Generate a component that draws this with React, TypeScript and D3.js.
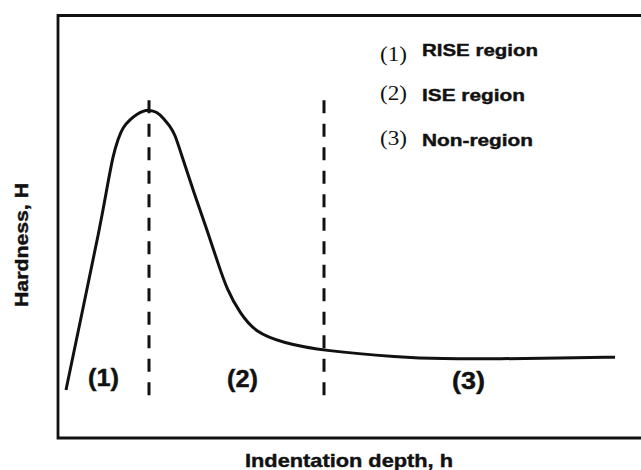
import React, { useRef, useEffect } from "react";
import * as d3 from "d3";

// hardness curve (depth, hardness)
const depth = [0.16, 0.5, 0.84, 0.98, 1.1, 1.2, 1.3, 1.44, 1.58, 1.7, 1.82, 1.98, 2.1, 2.24, 2.34, 2.44, 2.7, 2.98, 3.18, 3.38, 3.64, 3.94, 4.5, 5.32, 6.84, 7.64, 8.84, 10.04, 11.14];
const hardness = [1.12, 3.07, 5.0, 5.93, 6.7, 7.1, 7.38, 7.56, 7.69, 7.76, 7.79, 7.74, 7.6, 7.4, 7.2, 6.83, 5.88, 4.93, 4.21, 3.5, 2.95, 2.5, 2.24, 2.05, 1.9, 1.86, 1.86, 1.88, 1.9];

// region boundaries (depth) and their vertical extent
const boundaries = [1.82, 5.32];
const boundaryRange = [0.98, 8.02];

const regionLabels = ["(1)", "(2)", "(3)"];
const legendNums = ["(1)", "(2)", "(3)"];
const legendNames = ["RISE region", "ISE region", "Non-region"];

const xTitle = "Indentation depth, h";
const yTitle = "Hardness, H";

const App = () => {
  const ref = useRef<SVGSVGElement>(null);

  useEffect(() => {
    const svg = d3.select(ref.current);
    svg.selectAll("*").remove();

    const width = 641;
    const height = 470;
    const x = d3.scaleLinear().domain([0, 12]).range([58, 658]);
    const y = d3.scaleLinear().domain([0, 10]).range([437, 17]);

    svg.attr("width", width).attr("height", height);

    svg
      .append("rect")
      .attr("width", width)
      .attr("height", height)
      .attr("fill", "#fff");

    // frame: left, top and bottom only, the right side runs off the picture
    svg
      .append("path")
      .attr("d", `M${width + 10},15.5H58V438H${width + 10}`)
      .attr("fill", "none")
      .attr("stroke", "#111")
      .attr("stroke-width", 2.8);

    const pts = depth.map((d, i) => [d, hardness[i]] as [number, number]);
    const line = d3
      .line<[number, number]>()
      .x((d) => x(d[0]))
      .y((d) => y(d[1]))
      .curve(d3.curveBasis);

    svg
      .append("path")
      .datum(pts)
      .attr("d", line)
      .attr("fill", "none")
      .attr("stroke", "#111")
      .attr("stroke-width", 3)
      .attr("stroke-linejoin", "round");

    svg
      .selectAll(".bound")
      .data(boundaries)
      .enter()
      .append("line")
      .attr("class", "bound")
      .attr("x1", (d) => x(d))
      .attr("x2", (d) => x(d))
      .attr("y1", y(boundaryRange[1]))
      .attr("y2", y(boundaryRange[0]))
      .attr("stroke", "#111")
      .attr("stroke-width", 3)
      .attr("stroke-dasharray", "13,10.5");

    const sans = "'Liberation Sans', Arial, sans-serif";

    // region labels under the curve
    const regionX = [103.5, 242.5, 468.5];
    const regionBase = [386, 387, 389];
    const regionW = [31, 31, 33];
    svg
      .selectAll(".region")
      .data(regionLabels)
      .enter()
      .append("text")
      .attr("class", "region")
      .attr("x", (d, i) => regionX[i] - regionW[i] / 2)
      .attr("y", (d, i) => regionBase[i])
      .attr("textLength", (d, i) => regionW[i])
      .attr("lengthAdjust", "spacingAndGlyphs")
      .style("font-family", sans)
      .style("font-weight", "bold")
      .style("font-size", "23px")
      .attr("fill", "#111")
      .attr("stroke", "#111")
      .attr("stroke-width", 0.4)
      .text((d) => d);

    // legend
    const rowBase = [56, 101, 146];
    const numBase = [61, 100, 145];
    const nameW = [116, 103, 111];
    svg
      .selectAll(".lnum")
      .data(legendNums)
      .enter()
      .append("text")
      .attr("class", "lnum")
      .attr("x", 380)
      .attr("y", (d, i) => numBase[i])
      .attr("textLength", 27)
      .attr("lengthAdjust", "spacingAndGlyphs")
      .style("font-family", "'Liberation Serif', 'Times New Roman', serif")
      .style("font-size", "20px")
      .attr("fill", "#111")
      .text((d) => d);

    svg
      .selectAll(".lname")
      .data(legendNames)
      .enter()
      .append("text")
      .attr("class", "lname")
      .attr("x", 422)
      .attr("y", (d, i) => rowBase[i])
      .attr("textLength", (d, i) => nameW[i])
      .attr("lengthAdjust", "spacingAndGlyphs")
      .style("font-family", sans)
      .style("font-weight", "bold")
      .style("font-size", "16.5px")
      .attr("fill", "#111")
      .attr("stroke", "#111")
      .attr("stroke-width", 0.4)
      .text((d) => d);

    // axis titles
    svg
      .append("text")
      .attr("x", 245)
      .attr("y", 466.5)
      .attr("textLength", 208)
      .attr("lengthAdjust", "spacingAndGlyphs")
      .style("font-family", sans)
      .style("font-weight", "bold")
      .style("font-size", "18.5px")
      .attr("fill", "#111")
      .attr("stroke", "#111")
      .attr("stroke-width", 0.4)
      .text(xTitle);

    svg
      .append("text")
      .attr("transform", "translate(28,307) rotate(-90)")
      .attr("textLength", 124)
      .attr("lengthAdjust", "spacingAndGlyphs")
      .style("font-family", sans)
      .style("font-weight", "bold")
      .style("font-size", "18px")
      .attr("fill", "#111")
      .attr("stroke", "#111")
      .attr("stroke-width", 0.4)
      .text(yTitle);
  }, []);

  return (
    <svg
      ref={ref}
      style={{ position: "absolute", left: 0, top: 0, display: "block" }}
    ></svg>
  );
};

export default App;
